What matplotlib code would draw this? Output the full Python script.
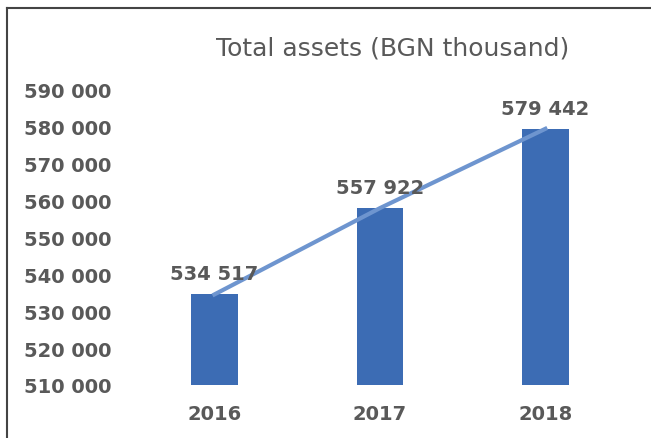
import matplotlib.pyplot as plt
from matplotlib.lines import Line2D
from matplotlib.ticker import FuncFormatter

years = ['2016', '2017', '2018']
total_assets = [534517, 557922, 579442]
y_ticks = list(range(510000, 590001, 10000))

bar_color = '#3C6CB4'
line_color = '#6E95CF'
text_color = '#595959'

fig = plt.figure(figsize=(6.51, 4.39), dpi=100)
ax = fig.add_axes([0.192, 0.121, 0.783, 0.672])

x = range(len(years))
ax.bar(x, total_assets, width=0.28, color=bar_color, zorder=2)
ax.plot(x, total_assets, color=line_color, linewidth=3, zorder=3)

for xi, v in zip(x, total_assets):
    ax.annotate('{:,}'.format(v).replace(',', ' '), (xi, v), xytext=(0, 8),
                textcoords='offset points', ha='center', va='bottom',
                fontsize=14, fontweight='bold', color=text_color, zorder=4)

ax.set_xlim(-0.54, 2.54)
ax.set_ylim(510000, 590000)
ax.set_yticks(y_ticks)
ax.yaxis.set_major_formatter(FuncFormatter(lambda v, p: '{:,.0f}'.format(v).replace(',', ' ')))
ax.set_xticks(list(x))
ax.set_xticklabels(years)
ax.tick_params(length=0, labelsize=14, labelcolor=text_color)
ax.tick_params(axis='x', pad=14)
ax.tick_params(axis='y', pad=10)
for lab in ax.get_xticklabels() + ax.get_yticklabels():
    lab.set_fontweight('bold')
for s in ax.spines.values():
    s.set_visible(False)

fig.text(0.603, 0.89, 'Total assets (BGN thousand)', ha='center', va='center',
         fontsize=18, color=text_color)

# scanned frame edges (left and top)
fig.add_artist(Line2D([0.011, 0.011], [0.0, 0.98], color='#444444', linewidth=1.5))
fig.add_artist(Line2D([0.011, 1.0], [0.98, 0.98], color='#444444', linewidth=1.5))

fig.savefig('out.png', dpi=100)
